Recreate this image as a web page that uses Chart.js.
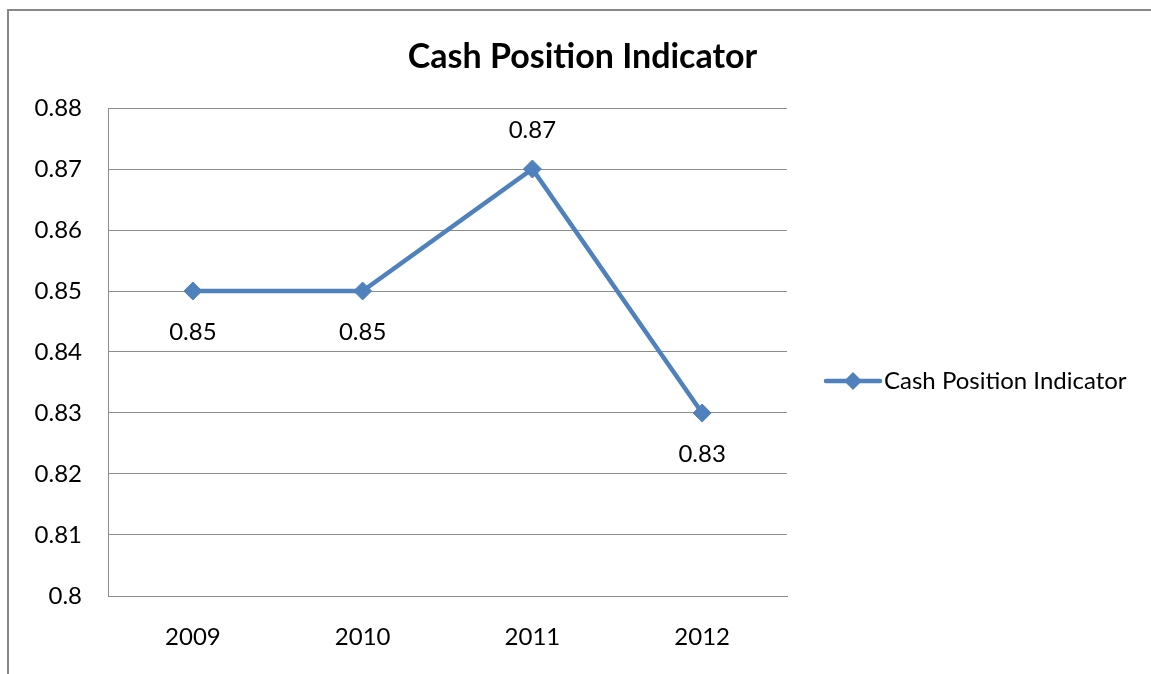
<!DOCTYPE html>
<html>
<head>
<meta charset="utf-8">
<script src="https://cdn.jsdelivr.net/npm/chart.js@4"></script>
<style>
    body { margin: 0; background: #fff; overflow: hidden; }
    #wrap { position: relative; width: 1151px; height: 674px; }
    #frame { position: absolute; left: 7px; top: 9px; width: 2000px; height: 2000px; border: 2px solid #888; }
    canvas { position: absolute; left: 0; top: 0; }
</style>
</head>
<body>
<div id="wrap">
    <div id="frame"></div>
    <canvas id="chart" width="1151" height="674"></canvas>
</div>
<script>
// Dados do gráfico
const years = ['2009', '2010', '2011', '2012'];
const cashPosition = [0.85, 0.85, 0.87, 0.83];
const seriesName = 'Cash Position Indicator';
const yMin = 0.8;
const yMax = 0.88;
const yStep = 0.01;

const lineColor = '#4F81BD';
const gridColor = '#8c8c8c';
const fontFamily = 'Lato, "Open Sans", sans-serif';

// Título centralizado na moldura (não na área do gráfico)
const frameTitle = {
    id: 'frameTitle',
    afterDraw(chart) {
        const ctx = chart.ctx;
        ctx.save();
        ctx.font = 'bold 34px ' + fontFamily;
        ctx.fillStyle = '#000';
        ctx.textAlign = 'center';
        ctx.textBaseline = 'middle';
        ctx.fillText(seriesName, chart.width / 2 + 7, 57);
        ctx.restore();
    }
};

// Rótulos de dados (acima no pico, abaixo nos demais)
const dataLabels = {
    id: 'dataLabels',
    afterDatasetsDraw(chart) {
        const ctx = chart.ctx;
        const meta = chart.getDatasetMeta(0);
        const values = chart.data.datasets[0].data;
        ctx.save();
        ctx.font = '24px ' + fontFamily;
        ctx.fillStyle = '#000';
        ctx.textAlign = 'center';
        ctx.textBaseline = 'middle';
        meta.data.forEach((pt, i) => {
            const prev = i > 0 ? values[i - 1] : -Infinity;
            const next = i < values.length - 1 ? values[i + 1] : -Infinity;
            const above = values[i] > prev && values[i] > next;
            ctx.fillText(values[i].toFixed(2), pt.x, pt.y + (above ? -39 : 41));
        });
        ctx.restore();
    }
};

// Legenda no estilo Excel (linha com marcador)
const lineLegend = {
    id: 'lineLegend',
    afterDraw(chart) {
        const ctx = chart.ctx;
        const area = chart.chartArea;
        const x = area.right + 39;
        const y = (area.top + area.bottom) / 2 + 29;
        const r = 9;
        ctx.save();
        ctx.strokeStyle = lineColor;
        ctx.lineWidth = 4.5;
        ctx.lineCap = 'round';
        ctx.beginPath();
        ctx.moveTo(x, y);
        ctx.lineTo(x + 54, y);
        ctx.stroke();
        ctx.fillStyle = lineColor;
        ctx.beginPath();
        ctx.moveTo(x + 27 - r, y);
        ctx.lineTo(x + 27, y - r);
        ctx.lineTo(x + 27 + r, y);
        ctx.lineTo(x + 27, y + r);
        ctx.closePath();
        ctx.fill();
        ctx.font = '24px ' + fontFamily;
        ctx.fillStyle = '#000';
        ctx.textAlign = 'left';
        ctx.textBaseline = 'middle';
        ctx.fillText(seriesName, x + 58, y);
        ctx.restore();
    }
};

const ctx = document.getElementById('chart').getContext('2d');
new Chart(ctx, {
    type: 'line',
    data: {
        labels: years,
        datasets: [{
            label: seriesName,
            data: cashPosition,
            borderColor: lineColor,
            backgroundColor: lineColor,
            borderWidth: 4.5,
            pointStyle: 'rectRot',
            pointRadius: 9,
            pointBorderWidth: 1,
            tension: 0
        }]
    },
    options: {
        responsive: false,
        animation: false,
        layout: { padding: { left: 0, top: 108, right: 364, bottom: 0 } },
        plugins: {
            legend: { display: false },
            tooltip: { enabled: false },
            title: { display: false }
        },
        scales: {
            x: {
                offset: true,
                grid: { display: false, drawTicks: false },
                border: { display: true, color: gridColor, width: 1 },
                ticks: { color: '#000', font: { family: fontFamily, size: 24 }, padding: 27 },
                afterFit(scale) { scale.height = 78; }
            },
            y: {
                min: yMin,
                max: yMax,
                grid: { color: gridColor, drawTicks: false },
                border: { display: true, color: gridColor, width: 1 },
                ticks: {
                    stepSize: yStep,
                    color: '#000',
                    font: { family: fontFamily, size: 24 },
                    padding: 26,
                    callback: v => String(parseFloat(v.toFixed(2)))
                },
                afterFit(scale) { scale.width = 108; }
            }
        }
    },
    plugins: [frameTitle, dataLabels, lineLegend]
});
</script>
</body>
</html>
